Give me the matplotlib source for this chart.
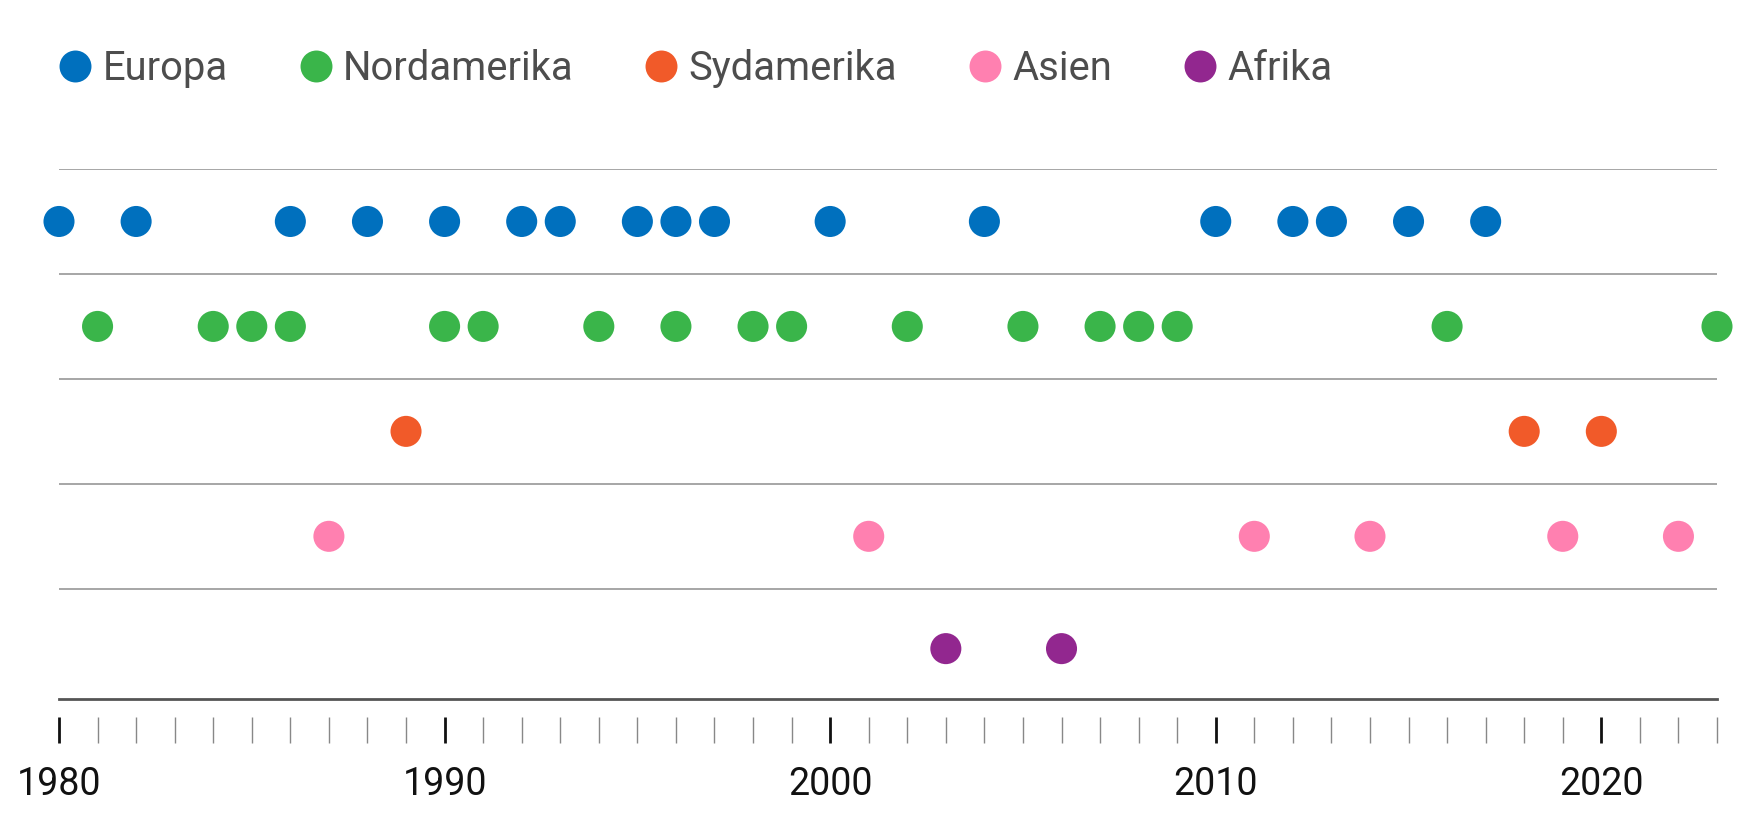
import matplotlib
matplotlib.use("Agg")
import matplotlib.pyplot as plt
from matplotlib.lines import Line2D
from matplotlib.ticker import MultipleLocator

plt.rcParams['font.family'] = ['Roboto', 'DejaVu Sans']

# regions and the years in which each one appears
regions = ['Europa', 'Nordamerika', 'Sydamerika', 'Asien', 'Afrika']
colors = ['#0070be', '#3ab54a', '#f15a29', '#ff80b0', '#92278f']

europa = [1980, 1982, 1986, 1988, 1990, 1992, 1993, 1995, 1996, 1997,
          2000, 2004, 2010, 2012, 2013, 2015, 2017]
nordamerika = [1981, 1984, 1985, 1986, 1990, 1991, 1994, 1996, 1998, 1999,
               2002, 2005, 2007, 2008, 2009, 2016, 2023]
sydamerika = [1989, 2018, 2020]
asien = [1987, 2001, 2011, 2014, 2019, 2022]
afrika = [2003, 2006]

years = [europa, nordamerika, sydamerika, asien, afrika]
major_ticks = [1980, 1990, 2000, 2010, 2020]

# row centres (last band is a bit taller)
row_pos = [0, 1, 2, 3, 4.07]

W, H = 1744, 817
fig = plt.figure(figsize=(W / 100, H / 100), dpi=100)
ax = fig.add_axes([59 / W, 1 - 699 / H, (1717 - 59) / W, (699 - 169) / H])

ax.set_xlim(1980, 2023)
ax.set_ylim(4.55, -0.5)

# row separators
for i in range(len(regions)):
    ax.axhline(i - 0.5, color='#a6a6a6', lw=1.4, zorder=1)
ax.axhline(4.55, color='#555555', lw=2, zorder=1, clip_on=False)

for yrs, c, y in zip(years, colors, row_pos):
    ax.scatter(yrs, [y] * len(yrs), s=500, color=c, edgecolors='none',
               zorder=3, clip_on=False)

for s in ['top', 'right', 'left', 'bottom']:
    ax.spines[s].set_visible(False)
ax.spines['bottom'].set_position(('outward', 13))
ax.set_yticks([])
ax.set_xticks(major_ticks)
ax.xaxis.set_minor_locator(MultipleLocator(1))
ax.tick_params(axis='x', which='major', length=19, width=2, color='#111111',
               labelsize=27, pad=16, labelcolor='#111111')
ax.tick_params(axis='x', which='minor', length=19, width=1, color='#888888')

handles = [Line2D([], [], marker='o', linestyle='none', markersize=23,
                  markerfacecolor=c, markeredgecolor='none') for c in colors]
fig.legend(handles, regions, loc='center left', bbox_to_anchor=(0.034, 1 - 68 / H),
           ncol=5, frameon=False, fontsize=28.8, labelcolor='#4d4d4d',
           handlelength=0.8, handletextpad=0.28, columnspacing=1.8,
           borderpad=0, borderaxespad=0)

fig.savefig('out.png', dpi=100)
